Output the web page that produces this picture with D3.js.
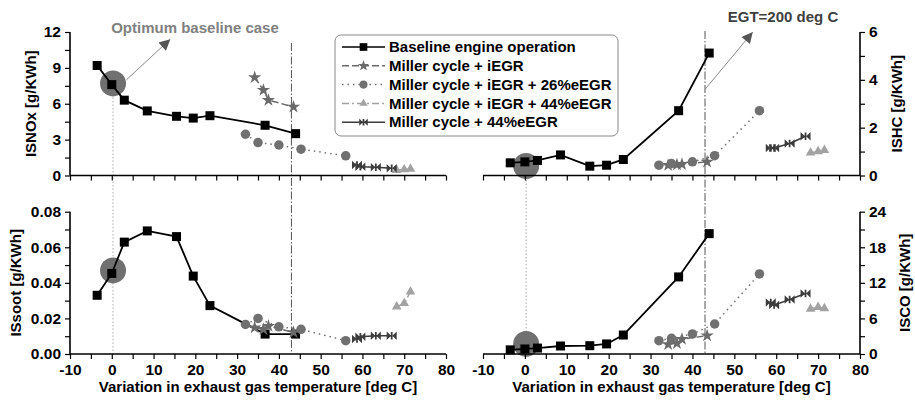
<!DOCTYPE html>
<html>
<head>
<meta charset="utf-8">
<script src="https://cdn.jsdelivr.net/npm/d3@7/dist/d3.min.js"></script>
<style>
    body { margin: 0; background: #ffffff; }
    svg { display: block; font-family: "Liberation Sans", Arial, sans-serif; font-weight: bold; }
</style>
</head>
<body>
<svg id="chart" width="915" height="404"></svg>
<script>
// ---- data ----
const seriesNames = ["Baseline engine operation", "Miller cycle + iEGR", "Miller cycle + iEGR + 26%eEGR",
    "Miller cycle + iEGR + 44%eEGR", "Miller cycle + 44%eEGR"];

const baseX = [-3.5, 0, 3, 8.5, 15.5, 19.5, 23.5, 36.7, 44];
const baseNOx = [9.2, 7.6, 6.3, 5.4, 4.95, 4.8, 5.0, 4.2, 3.5];
const baseHC = [0.53, 0.57, 0.63, 0.86, 0.39, 0.43, 0.67, 2.71, 5.12];
const baseSoot = [0.033, 0.0453, 0.0629, 0.0692, 0.066, 0.0438, 0.0272, 0.0112, 0.0112];
const baseCO = [0.7, 0.85, 1.0, 1.35, 1.4, 1.7, 3.2, 13.0, 20.3];

const iegrX = [34.2, 36.3, 37.5, 43.5];
const iegrNOx = [8.2, 7.14, 6.3, 5.74];
const iegrHC = [0.43, 0.45, 0.47, 0.57];
const iegrSoot = [0.0148, 0.0139, 0.0157, 0.0122];
const iegrCO = [1.63, 1.8, 2.5, 3.1];

const egr26X = [32, 35, 40, 45.3, 56];
const egr26NOx = [3.45, 2.75, 2.55, 2.2, 1.65];
const egr26HC = [0.43, 0.5, 0.57, 0.83, 2.71];
const egr26Soot = [0.0166, 0.02, 0.0153, 0.0139, 0.0075];
const egr26CO = [2.25, 2.65, 3.38, 5.06, 13.5];

const egr44X = [68.2, 70, 71.5];
const egr44NOx = [0.45, 0.5, 0.55];
const egr44HC = [0.95, 1.01, 1.06];
const egr44Soot = [0.0266, 0.0285, 0.035];
const egr44CO = [7.6, 7.9, 7.7];

const millerX = [58.7, 59.5, 63.2, 67];
const millerNOx = [0.88, 0.74, 0.69, 0.6];
const millerHC = [1.15, 1.15, 1.34, 1.64];
const millerSoot = [0.0085, 0.0097, 0.0103, 0.0103];
const millerCO = [8.7, 8.25, 9.2, 10.2];

// optimum baseline case (big grey disc)
const optimumX = 0.3;
const optimumNOx = 7.7, optimumHC = 0.4, optimumSoot = 0.047, optimumCO = 1.7;

const egtLimit = 43;
const xTicks = [-10, 0, 10, 20, 30, 40, 50, 60, 70, 80];

const svg = d3.select("#chart");

const styles = [
    {color: "#000000", dash: null, symbol: "square", size: 9},
    {color: "#6a6a6a", dash: "7,3", symbol: "star", size: 11},
    {color: "#707070", dash: "1.5,4", symbol: "circle", size: 9.5},
    {color: "#a2a2a2", dash: "7,3,2,3", symbol: "triangle", size: 9},
    {color: "#3c3c3c", dash: null, symbol: "bowtie", size: 10}
];

const panels = [
    {name: "ISNOx [g/KWh]", left: 70, right: 446, top: 32, bottom: 175.5, side: "left", max: 12, step: 3, minor: 1.5, fmt: d3.format("d"), labelX: 31,
        opt: optimumNOx, series: [[baseX, baseNOx], [iegrX, iegrNOx], [egr26X, egr26NOx], [egr44X, egr44NOx], [millerX, millerNOx]]},
    {name: "ISHC [g/KWh]", left: 483, right: 860, top: 32, bottom: 175.5, side: "right", max: 6, step: 2, minor: 1, fmt: d3.format("d"), labelX: 897,
        opt: optimumHC, series: [[baseX, baseHC], [iegrX, iegrHC], [egr26X, egr26HC], [egr44X, egr44HC], [millerX, millerHC]]},
    {name: "ISsoot [g/KWh]", left: 70, right: 446, top: 211.7, bottom: 354, side: "left", max: 0.08, step: 0.02, minor: 0.01, fmt: d3.format(".2f"), labelX: 16,
        opt: optimumSoot, series: [[baseX, baseSoot], [iegrX, iegrSoot], [egr26X, egr26Soot], [egr44X, egr44Soot], [millerX, millerSoot]]},
    {name: "ISCO [g/KWh]", left: 483, right: 860, top: 211.7, bottom: 354, side: "right", max: 24, step: 6, minor: 3, fmt: d3.format("d"), labelX: 905,
        opt: optimumCO, series: [[baseX, baseCO], [iegrX, iegrCO], [egr26X, egr26CO], [egr44X, egr44CO], [millerX, millerCO]]}
];

function symbolPath(type, size){
    const s = size / 2;
    if (type === "bowtie") {
        // two triangles pointing at each other with a short bar between
        return `M${-s},${-s * 0.85}L-0.6,0L${-s},${s * 0.85}Z` +
               `M${s},${-s * 0.85}L0.6,0L${s},${s * 0.85}Z` +
               `M-0.9,${-s * 0.75}H0.9V${s * 0.75}H-0.9Z`;
    }
    const map = {square: d3.symbolSquare, star: d3.symbolStar, circle: d3.symbolCircle, triangle: d3.symbolTriangle};
    const area = type === "star" ? size * size * 0.45 : (type === "circle" ? Math.PI * s * s : (type === "triangle" ? size * size * 0.5 : size * size));
    return d3.symbol().type(map[type]).size(area)();
}

// build scales for every panel
panels.forEach(p => {
    p.x = d3.scaleLinear().domain([-10, 80]).range([p.left, p.right]);
    p.y = d3.scaleLinear().domain([0, p.max]).range([p.bottom, p.top]);
});

// optimum discs + dotted connector at x = 0 (one per column)
[[panels[0], panels[2]], [panels[1], panels[3]]].forEach(([top, bot]) => {
    svg.append("line")
        .attr("x1", top.x(optimumX)).attr("x2", top.x(optimumX))
        .attr("y1", top.y(top.opt)).attr("y2", bot.bottom)
        .attr("stroke", "#aaaaaa")
        .attr("stroke-width", 1)
        .attr("stroke-dasharray", "1.5,2");
    [top, bot].forEach(p => {
        svg.append("circle")
            .attr("cx", p.x(optimumX))
            .attr("cy", p.y(p.opt))
            .attr("r", 13)
            .attr("fill", "#707070");
    });
    // EGT = 200 deg C limit line
    svg.append("line")
        .attr("x1", top.x(egtLimit)).attr("x2", top.x(egtLimit))
        .attr("y1", top.side === "left" ? 43 : 31).attr("y2", bot.bottom)
        .attr("stroke", "#555555")
        .attr("stroke-width", 1)
        .attr("stroke-dasharray", "8,2,1.5,2");
});

panels.forEach((p, pi) => {
    const g = svg.append("g");

    // x axis
    const xAxis = d3.axisBottom(p.x)
        .tickValues(d3.range(-10, 80.1, 5))
        .tickSize(5)
        .tickFormat(d => (pi >= 2 && xTicks.includes(d)) ? d : "");
    const gx = g.append("g")
        .attr("transform", `translate(0,${p.bottom})`)
        .call(xAxis);
    gx.select(".domain").attr("stroke", "#000").attr("stroke-width", 1.6).attr("d", `M${p.left},0H${p.right}`);
    gx.selectAll(".tick line").attr("stroke", "#000").attr("stroke-width", 1.2);
    gx.selectAll(".tick text")
        .attr("dy", "0.75em")
        .attr("y", 9)
        .style("font-size", "15.5px")
        .style("font-family", "'Liberation Sans', Arial, sans-serif")
        .style("font-weight", "bold")
        .attr("fill", "#000");

    // y axis
    const yAxis = (p.side === "left" ? d3.axisLeft(p.y) : d3.axisRight(p.y))
        .tickValues(d3.range(0, p.max + p.minor / 2, p.minor))
        .tickSize(5)
        .tickPadding(4)
        .tickFormat((d, i) => i % 2 === 0 ? p.fmt(d) : "");
    const gy = g.append("g")
        .attr("transform", `translate(${p.side === "left" ? p.left : p.right},0)`)
        .call(yAxis);
    gy.select(".domain").attr("stroke", "#000").attr("stroke-width", 1.6).attr("d", `M0,${p.top}V${p.bottom}`);
    gy.selectAll(".tick line").attr("stroke", "#000").attr("stroke-width", 1.2);
    gy.selectAll(".tick text")
        .style("font-size", "15.5px")
        .style("font-family", "'Liberation Sans', Arial, sans-serif")
        .style("font-weight", "bold")
        .attr("fill", "#000");

    // y axis title
    svg.append("text")
        .attr("transform", `translate(${p.labelX},${(p.top + p.bottom) / 2}) rotate(-90)`)
        .attr("text-anchor", "middle")
        .attr("dy", "0.35em")
        .style("font-size", "15px")
        .text(p.name);

    // series
    const line = d3.line().x(d => p.x(d[0])).y(d => p.y(d[1]));
    p.series.forEach(([xs, ys], si) => {
        const st = styles[si];
        const pts = xs.map((v, i) => [v, ys[i]]);
        svg.append("path")
            .attr("d", line(pts))
            .attr("fill", "none")
            .attr("stroke", st.color)
            .attr("stroke-width", si === 0 ? 1.8 : 1.5)
            .attr("stroke-dasharray", st.dash);
        svg.append("g").selectAll("path")
            .data(pts)
            .join("path")
            .attr("transform", d => `translate(${p.x(d[0])},${p.y(d[1])})`)
            .attr("d", symbolPath(st.symbol, st.size))
            .attr("fill", st.color);
    });
});

// x axis titles
[panels[2], panels[3]].forEach(p => {
    svg.append("text")
        .attr("x", (p.left + p.right) / 2)
        .attr("y", 392)
        .attr("text-anchor", "middle")
        .style("font-size", "15px")
        .text("Variation in exhaust gas temperature [deg C]");
});

// annotations with arrows
svg.append("defs").append("marker")
    .attr("id", "arrow")
    .attr("viewBox", "0 0 10 10")
    .attr("refX", 10).attr("refY", 5)
    .attr("markerWidth", 15).attr("markerHeight", 11)
    .attr("markerUnits", "userSpaceOnUse")
    .attr("orient", "auto")
    .append("path")
    .attr("d", "M0,0L10,5L0,10Z")
    .attr("fill", "#555555");

const nox = panels[0], hc = panels[1];
svg.append("line")
    .attr("x1", nox.x(3.5)).attr("y1", nox.y(8.0))
    .attr("x2", nox.x(14)).attr("y2", nox.y(11.4))
    .attr("stroke", "#888888").attr("stroke-width", 1)
    .attr("marker-end", "url(#arrow)");
svg.append("text")
    .attr("x", 195).attr("y", 33)
    .attr("text-anchor", "middle")
    .attr("fill", "#808080")
    .style("font-size", "15px")
    .text("Optimum baseline case");

svg.append("line")
    .attr("x1", hc.x(43)).attr("y1", hc.y(3.6))
    .attr("x2", hc.x(54.4)).attr("y2", hc.y(6.0))
    .attr("stroke", "#888888").attr("stroke-width", 1)
    .attr("marker-end", "url(#arrow)");
svg.append("text")
    .attr("x", 783).attr("y", 22)
    .attr("text-anchor", "middle")
    .attr("fill", "#404040")
    .style("font-size", "15px")
    .text("EGT=200 deg C");

// legend
const legend = svg.append("g");
legend.append("rect")
    .attr("x", 335).attr("y", 35)
    .attr("width", 283).attr("height", 101)
    .attr("rx", 6)
    .attr("fill", "#ffffff")
    .attr("stroke", "#888888")
    .attr("stroke-width", 1);
seriesNames.forEach((name, i) => {
    const st = styles[i];
    const yRow = 47 + i * 18.8;
    legend.append("line")
        .attr("x1", 342).attr("x2", 385)
        .attr("y1", yRow).attr("y2", yRow)
        .attr("stroke", st.color)
        .attr("stroke-width", 1.5)
        .attr("stroke-dasharray", st.dash);
    legend.append("path")
        .attr("transform", `translate(363.5,${yRow})`)
        .attr("d", symbolPath(st.symbol, st.size * 0.85))
        .attr("fill", st.color);
    legend.append("text")
        .attr("x", 389).attr("y", yRow)
        .attr("dy", "0.35em")
        .style("font-size", "15px")
        .text(name);
});
</script>
</body>
</html>
